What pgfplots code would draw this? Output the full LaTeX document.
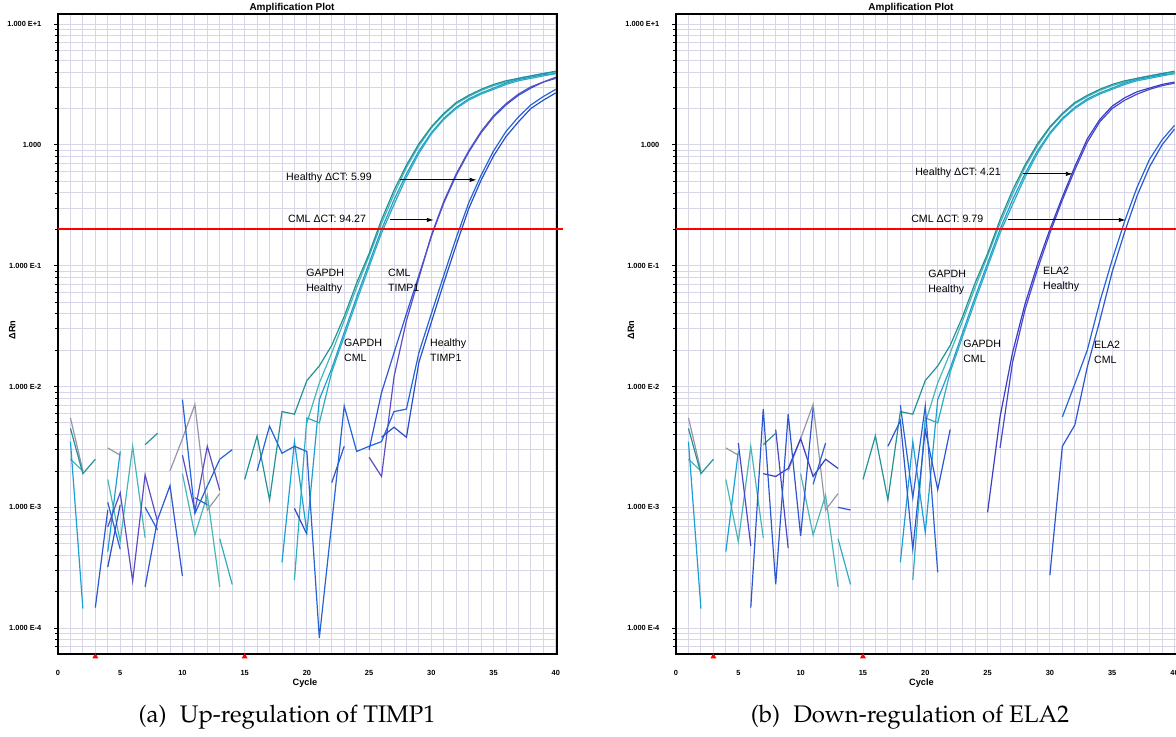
\documentclass[border=0pt]{standalone}
\usepackage[T1]{fontenc}
\usepackage{fontspec}
\setmainfont{Liberation Sans}
\usepackage{pgfplots}
\usepackage{pgfplotstable}
\pgfplotsset{compat=1.18}
\usetikzlibrary{arrows.meta}

\definecolor{gridc}{RGB}{214,214,232}
\definecolor{tealA}{RGB}{36,146,148}
\definecolor{tealB}{RGB}{72,182,182}
\definecolor{cyanA}{RGB}{28,160,212}
\definecolor{tealC}{RGB}{48,172,192}
\definecolor{grayc}{RGB}{150,150,165}
\definecolor{blueA}{RGB}{46,86,210}
\definecolor{purpA}{RGB}{92,78,194}
\definecolor{blueB}{RGB}{36,100,214}
\definecolor{blueC}{RGB}{42,78,198}
\definecolor{indA}{RGB}{58,62,196}
\definecolor{indB}{RGB}{74,70,204}

\newcommand{\capfont}{\fontencoding{T1}\fontfamily{ppl}\fontsize{12}{14}\selectfont}
\newcommand{\annfont}{\fontsize{5.3}{7.5}\selectfont}
\newcommand{\tickfont}{\bfseries\fontsize{3.7}{4.4}\selectfont}
\newcommand{\labfont}{\bfseries\fontsize{4.6}{5.2}\selectfont}

% GAPDH wells (shared by both runs)
\pgfplotstableread{
c  w1      w2      w3      w4      gr
1  4.5e-3  2.5e-3  3.5e-3  nan     5.5e-3
2  1.9e-3  2.0e-3  1.45e-4 nan     2.0e-3
3  2.5e-3  nan     nan     nan     nan
4  nan     1.7e-3  4.3e-4  nan     3.1e-3
5  nan     5.2e-4  2.9e-3  nan     2.7e-3
6  nan     3.2e-3  nan     nan     nan
7  3.3e-3  5.6e-4  nan     nan     nan
8  4.1e-3  nan     nan     nan     nan
9  nan     nan     nan     nan     2.0e-3
10 nan     1.9e-3  nan     nan     3.7e-3
11 nan     5.9e-4  nan     nan     7.1e-3
12 nan     1.26e-3 nan     nan     9.5e-4
13 nan     2.2e-4  nan     5.5e-4  1.3e-3
14 nan     nan     nan     2.3e-4  nan
15 1.7e-3  nan     nan     nan     nan
16 3.9e-3  nan     nan     nan     nan
17 1.15e-3 nan     nan     nan     nan
18 6.2e-3  nan     3.5e-4  nan     nan
19 5.9e-3  nan     3.5e-3  2.5e-4  nan
20 1.12e-2 5.0e-3  6.2e-4  5.5e-3  nan
21 1.48e-2 1.07e-2 7.8e-3  5.0e-3  nan
22 2.19e-2 1.9e-2  1.41e-2 1.32e-2 nan
23 3.8e-2  3.5e-2  2.8e-2  2.6e-2  nan
24 7.2e-2  6.6e-2  5.5e-2  5.1e-2  nan
25 0.126   0.12    0.105   0.098   nan
26 0.24    0.224   0.20    0.186   nan
27 0.42    0.39    0.35    0.32    nan
28 0.68    0.65    0.575   0.54    nan
29 1.02    0.98    0.89    0.85    nan
30 1.41    1.38    1.26    1.23    nan
31 1.82    1.78    1.66    1.62    nan
32 2.24    2.19    2.04    2.00    nan
33 2.57    2.51    2.40    2.34    nan
34 2.88    2.82    2.69    2.63    nan
35 3.16    3.09    2.95    2.88    nan
36 3.39    3.31    3.24    3.16    nan
37 3.55    3.55    3.47    3.39    nan
38 3.72    3.72    3.63    3.55    nan
39 3.89    3.89    3.80    3.72    nan
40 4.07    3.98    3.89    3.89    nan
}\gapdh

% TIMP1 wells: w5,w6 CML ; w7,w8 Healthy ; w9 extra baseline noise
\pgfplotstableread{
c  w5      w6      w7      w8      w9
1  nan     nan     nan     nan     nan
2  nan     nan     nan     nan     nan
3  1.48e-4 nan     nan     nan     nan
4  9.5e-4  6.9e-4  nan     3.2e-4  1.1e-3
5  nan     1.32e-3 nan     1.05e-3 4.5e-4
6  nan     2.45e-4 nan     nan     nan
7  2.2e-4  1.86e-3 nan     nan     1.0e-3
8  7.9e-4  7.6e-4  nan     nan     6.5e-4
9  1.51e-3 nan     nan     nan     nan
10 2.7e-4  2.7e-3  7.8e-3  nan     nan
11 nan     9.3e-4  8.9e-4  nan     1.2e-3
12 nan     3.2e-3  1.5e-3  nan     1.05e-3
13 nan     1.38e-3 2.5e-3  nan     nan
14 nan     nan     3.0e-3  nan     nan
15 nan     nan     nan     nan     nan
16 nan     nan     2.0e-3  nan     nan
17 nan     nan     4.7e-3  nan     nan
18 nan     nan     2.8e-3  nan     nan
19 nan     nan     3.2e-3  9.8e-4  nan
20 nan     nan     2.9e-3  6.0e-4  nan
21 nan     nan     8.3e-5  nan     nan
22 1.6e-3  nan     7.4e-4  nan     nan
23 3.2e-3  nan     6.9e-3  nan     nan
24 nan     nan     2.9e-3  nan     nan
25 3.0e-3  2.6e-3  3.2e-3  nan     nan
26 8.9e-3  1.8e-3  3.5e-3  3.8e-3  nan
27 1.9e-2  1.2e-2  6.2e-3  4.6e-3  nan
28 4.0e-2  3.5e-2  6.5e-3  3.8e-3  nan
29 8.3e-2  7.9e-2  1.9e-2  1.58e-2 nan
30 0.174   0.178   4.0e-2  3.4e-2  nan
31 0.33    0.34    8.3e-2  7.2e-2  nan
32 0.56    0.575   0.17    0.148   nan
33 0.87    0.89    0.33    0.295   nan
34 1.26    1.29    0.56    0.51    nan
35 1.70    1.74    0.89    0.81    nan
36 2.14    2.19    1.29    1.17    nan
37 2.57    2.63    1.70    1.55    nan
38 2.95    3.02    2.14    2.00    nan
39 3.31    3.31    2.51    2.34    nan
40 3.55    3.63    2.88    2.69    nan
}\timp

% ELA2 wells: r5,r6 Healthy ; r7,r8 CML
\pgfplotstableread{
c  r5      r6      r7      r8
1  nan     nan     nan     nan
2  nan     nan     nan     nan
3  nan     nan     nan     nan
4  nan     nan     nan     nan
5  nan     3.4e-3  nan     nan
6  nan     4.8e-4  1.48e-4 nan
7  1.9e-3  nan     6.5e-3  2.9e-4
8  1.8e-3  4.4e-3  2.3e-4  nan
9  2.1e-3  4.6e-4  5.9e-3  nan
10 3.7e-3  nan     5.8e-4  nan
11 1.8e-3  nan     6.6e-3  1.55e-3
12 2.5e-3  nan     nan     3.4e-3
13 2.1e-3  nan     1.0e-3  nan
14 nan     nan     9.5e-4  nan
15 nan     nan     nan     nan
16 nan     nan     nan     nan
17 nan     nan     3.2e-3  nan
18 nan     nan     5.2e-3  7.0e-3
19 nan     nan     4.5e-4  1.2e-3
20 nan     nan     4.4e-3  6.9e-3
21 nan     nan     1.4e-3  2.9e-4
22 nan     nan     4.4e-3  nan
23 nan     nan     nan     nan
24 nan     nan     nan     nan
25 9.1e-4  nan     nan     nan
26 5.6e-3  3.1e-3  nan     nan
27 1.9e-2  1.58e-2 nan     nan
28 4.8e-2  4.3e-2  nan     nan
29 0.102   9.3e-2  nan     nan
30 0.20    0.186   2.75e-4 nan
31 0.37    0.35    3.2e-3  5.6e-3
32 0.66    0.62    4.8e-3  1.05e-2
33 1.12    1.05    1.45e-2 2.0e-2
34 1.62    1.55    3.5e-2  5.0e-2
35 2.09    2.00    8.9e-2  0.112
36 2.45    2.34    0.19    0.234
37 2.75    2.63    0.38    0.447
38 2.95    2.88    0.66    0.76
39 3.16    3.09    1.0     1.10
40 3.31    3.24    1.35    1.45
}\ela

\begin{document}
\begin{tikzpicture}
\useasboundingbox (0,0) rectangle (588pt,-368.5pt);
\clip (0,0) rectangle (588pt,-368.5pt);

% ---------------- (a) TIMP1 ----------------
\begin{axis}[at={(29pt,-327pt)}, anchor=south west, width=249.5pt, xmax=40.1,
    scale only axis, height=320pt,
    ymode=log, xmin=0, ymin=6.11e-5, ymax=12.1,
    axis line style={black, line width=0.7pt},
    grid=both,
    major grid style={gridc, line width=0.45pt},
    minor grid style={gridc, line width=0.45pt},
    xtick={0,5,...,40}, xticklabels={0,5,10,15,20,25,30,35,40},
    minor x tick num=4,
    ytick={1e-4,1e-3,1e-2,1e-1,1,10},
    yticklabels={1.000 E-4,1.000 E-3,1.000 E-2,1.000 E-1,1.000,1.000 E+1},
    minor ytick={7e-5,8e-5,9e-5,2e-4,3e-4,4e-4,5e-4,6e-4,7e-4,8e-4,9e-4,2e-3,3e-3,4e-3,5e-3,6e-3,7e-3,8e-3,9e-3,0.02,0.03,0.04,0.05,0.06,0.07,0.08,0.09,0.2,0.3,0.4,0.5,0.6,0.7,0.8,0.9,2,3,4,5,6,7,8,9},
    tick pos=left, tick align=outside,
    xtick style={draw=none},
    ytick style={black, line width=0.4pt},
    major tick length=1.8pt, minor tick length=1.3pt,
    ticklabel style={font=\tickfont},
    xticklabel style={yshift=-3pt},
    yticklabel style={xshift=-3pt},
    unbounded coords=jump,
    clip=false]
\addplot[color=grayc, line width=0.6pt] table[x=c,y=gr]{\gapdh};
\addplot[color=tealB, line width=0.6pt] table[x=c,y=w2]{\gapdh};
\addplot[color=cyanA, line width=0.6pt] table[x=c,y=w3]{\gapdh};
\addplot[color=tealC, line width=0.6pt] table[x=c,y=w4]{\gapdh};
\addplot[color=tealA, line width=0.6pt] table[x=c,y=w1]{\gapdh};
\addplot[color=blueB, line width=0.6pt] table[x=c,y=w9]{\timp};
\addplot[color=blueA, line width=0.6pt] table[x=c,y=w5]{\timp};
\addplot[color=purpA, line width=0.6pt] table[x=c,y=w6]{\timp};
\addplot[color=blueB, line width=0.6pt] table[x=c,y=w7]{\timp};
\addplot[color=blueC, line width=0.6pt] table[x=c,y=w8]{\timp};
\addplot[only marks, mark=triangle*, mark size=1.3pt, color=red, mark options={yshift=-1.3pt}] coordinates {(3,6.11e-5) (15,6.11e-5)};
\addplot[color=red, line width=0.9pt, mark=none] coordinates {(0,0.2) (40.6,0.2)};

\draw[-{Latex[length=3.5pt,width=2.2pt]}, line width=0.45pt] (axis cs:27.47,0.513) -- (axis cs:33.65,0.513);
\draw[-{Latex[length=3.5pt,width=2.2pt]}, line width=0.45pt] (axis cs:26.67,0.239) -- (axis cs:30.2,0.239);
\node[anchor=west, inner sep=0pt, font=\annfont] at (axis cs:18.31,0.533) {Healthy ΔCT: 5.99};
\node[anchor=west, inner sep=0pt, font=\annfont] at (axis cs:18.47,0.244) {CML ΔCT: 94.27};
\node[anchor=west, inner sep=0pt, font=\annfont, align=left] at (axis cs:19.92,0.0741) {GAPDH\\Healthy};
\node[anchor=west, inner sep=0pt, font=\annfont, align=left] at (axis cs:26.5,0.0763) {CML\\TIMP1};
\node[anchor=west, inner sep=0pt, font=\annfont, align=left] at (axis cs:22.97,0.0199) {GAPDH\\CML};
\node[anchor=west, inner sep=0pt, font=\annfont, align=left] at (axis cs:29.88,0.0201) {Healthy\\TIMP1};

\node[font=\bfseries\fontsize{5}{6}\selectfont] at (rel axis cs:0.469,1.0094) {Amplification Plot};
\node[font=\labfont] at (rel axis cs:0.495,-0.0453) {Cycle};
\node[font=\labfont, rotate=90] at (rel axis cs:-0.092,0.506) {ΔRn};
\end{axis}

% ---------------- (b) ELA2 ----------------
\begin{axis}[at={(338pt,-327pt)}, anchor=south west, width=250.5pt, xmax=40.2,
    scale only axis, height=320pt,
    ymode=log, xmin=0, ymin=6.11e-5, ymax=12.1,
    axis line style={black, line width=0.7pt},
    grid=both,
    major grid style={gridc, line width=0.45pt},
    minor grid style={gridc, line width=0.45pt},
    xtick={0,5,...,40}, xticklabels={0,5,10,15,20,25,30,35,40},
    minor x tick num=4,
    ytick={1e-4,1e-3,1e-2,1e-1,1,10},
    yticklabels={1.000 E-4,1.000 E-3,1.000 E-2,1.000 E-1,1.000,1.000 E+1},
    minor ytick={7e-5,8e-5,9e-5,2e-4,3e-4,4e-4,5e-4,6e-4,7e-4,8e-4,9e-4,2e-3,3e-3,4e-3,5e-3,6e-3,7e-3,8e-3,9e-3,0.02,0.03,0.04,0.05,0.06,0.07,0.08,0.09,0.2,0.3,0.4,0.5,0.6,0.7,0.8,0.9,2,3,4,5,6,7,8,9},
    tick pos=left, tick align=outside,
    xtick style={draw=none},
    ytick style={black, line width=0.4pt},
    major tick length=1.8pt, minor tick length=1.3pt,
    ticklabel style={font=\tickfont},
    xticklabel style={yshift=-3pt},
    yticklabel style={xshift=-3pt},
    unbounded coords=jump,
    clip=false]
\addplot[color=grayc, line width=0.6pt] table[x=c,y=gr]{\gapdh};
\addplot[color=tealB, line width=0.6pt] table[x=c,y=w2]{\gapdh};
\addplot[color=cyanA, line width=0.6pt] table[x=c,y=w3]{\gapdh};
\addplot[color=tealC, line width=0.6pt] table[x=c,y=w4]{\gapdh};
\addplot[color=tealA, line width=0.6pt] table[x=c,y=w1]{\gapdh};
\addplot[color=indA, line width=0.6pt] table[x=c,y=r5]{\ela};
\addplot[color=indB, line width=0.6pt] table[x=c,y=r6]{\ela};
\addplot[color=blueA, line width=0.6pt] table[x=c,y=r7]{\ela};
\addplot[color=blueB, line width=0.6pt] table[x=c,y=r8]{\ela};
\addplot[only marks, mark=triangle*, mark size=1.3pt, color=red, mark options={yshift=-1.3pt}] coordinates {(3,6.11e-5) (15,6.11e-5)};
\addplot[color=red, line width=0.9pt, mark=none] coordinates {(0,0.2) (41,0.2)};

\draw[-{Latex[length=3.5pt,width=2.2pt]}, line width=0.45pt] (axis cs:27.83,0.575) -- (axis cs:31.84,0.575);
\draw[-{Latex[length=3.5pt,width=2.2pt]}, line width=0.45pt] (axis cs:26.62,0.239) -- (axis cs:36.09,0.239);
\node[anchor=west, inner sep=0pt, font=\annfont] at (axis cs:19.17,0.586) {Healthy ΔCT: 4.21};
\node[anchor=west, inner sep=0pt, font=\annfont] at (axis cs:18.85,0.244) {CML ΔCT: 9.79};
\node[anchor=west, inner sep=0pt, font=\annfont, align=left] at (axis cs:20.21,0.0728) {GAPDH\\Healthy};
\node[anchor=west, inner sep=0pt, font=\annfont, align=left] at (axis cs:29.43,0.0763) {ELA2\\Healthy};
\node[anchor=west, inner sep=0pt, font=\annfont, align=left] at (axis cs:23.02,0.0197) {GAPDH\\CML};
\node[anchor=west, inner sep=0pt, font=\annfont, align=left] at (axis cs:33.52,0.0193) {ELA2\\CML};

\node[font=\bfseries\fontsize{5}{6}\selectfont] at (rel axis cs:0.469,1.0094) {Amplification Plot};
\node[font=\labfont] at (rel axis cs:0.49,-0.0453) {Cycle};
\node[font=\labfont, rotate=90] at (rel axis cs:-0.0898,0.506) {ΔRn};
\end{axis}

\node[anchor=base, font=\capfont] at (143.5pt,-361pt) {(a)\hspace{0.55em}Up-regulation of TIMP1};
\node[anchor=base, font=\capfont] at (455pt,-361pt) {(b)\hspace{0.55em}Down-regulation of ELA2};
\end{tikzpicture}
\end{document}
